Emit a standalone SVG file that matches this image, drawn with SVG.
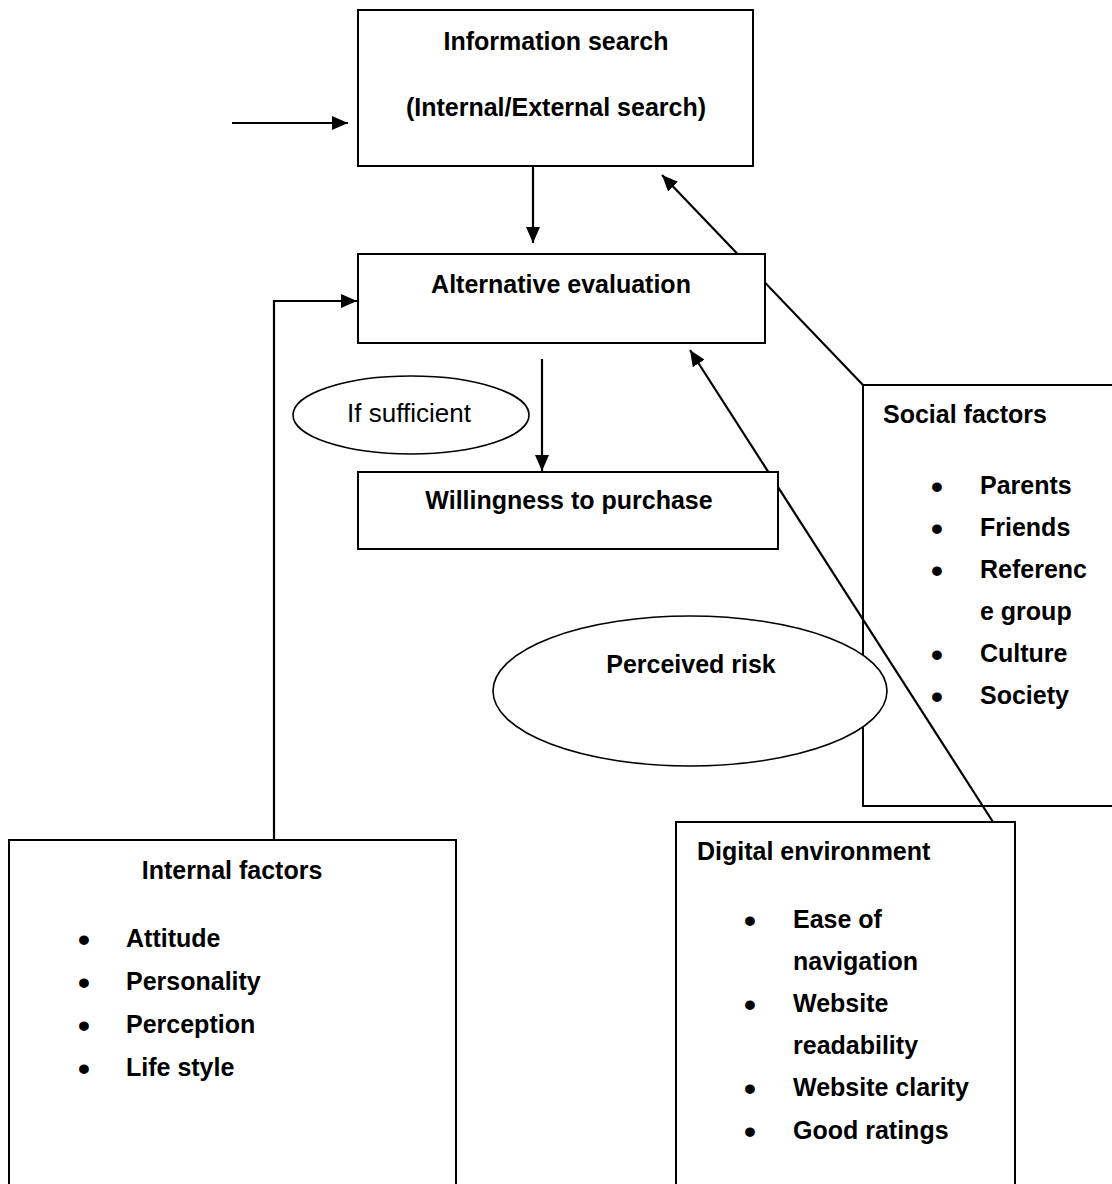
<svg xmlns="http://www.w3.org/2000/svg" width="1112" height="1184" viewBox="0 0 1112 1184">
  <style>
    .box { fill: #ffffff; stroke: #000000; stroke-width: 2; }
    .ell { fill: #ffffff; stroke: #000000; stroke-width: 1.6; }
    .conn { fill: none; stroke: #000000; stroke-width: 2.2; }
    .b { font-family: "Liberation Sans", Arial, sans-serif; font-weight: bold; font-size: 25px; fill: #000000; }
    .bl { font-family: "Liberation Sans", Arial, sans-serif; font-weight: bold; font-size: 34px; fill: #000000; text-anchor: middle; }
    .r { font-family: "Liberation Sans", Arial, sans-serif; font-size: 26px; fill: #000000; }
    .mid { text-anchor: middle; }
  </style>
  <defs>
    <marker id="arrow" markerUnits="userSpaceOnUse" markerWidth="16" markerHeight="14" refX="16" refY="7" orient="auto">
      <path d="M0,0 L16,7 L0,14 z" fill="#000000"/>
    </marker>
  </defs>
  <rect width="1112" height="1184" fill="#ffffff"/>

  <g id="social-factors">
    <rect class="box" x="863" y="385" width="270" height="421"/>
    <text class="b" x="883" y="423">Social factors</text>
    <text class="bl" x="937" y="498">•</text>
    <text class="b" x="980" y="494">Parents</text>
    <text class="bl" x="937" y="540">•</text>
    <text class="b" x="980" y="536">Friends</text>
    <text class="bl" x="937" y="582">•</text>
    <text class="b" x="980" y="578">Referenc</text>
    <text class="b" x="980" y="620">e group</text>
    <text class="bl" x="937" y="666">•</text>
    <text class="b" x="980" y="662">Culture</text>
    <text class="bl" x="937" y="708">•</text>
    <text class="b" x="980" y="704">Society</text>
  </g>

  <g id="perceived-risk">
    <ellipse class="ell" cx="690" cy="691" rx="197" ry="75"/>
    <text class="b mid" x="691" y="673">Perceived risk</text>
  </g>

  <g id="connectors">
    <line class="conn" x1="232" y1="123" x2="348" y2="123" marker-end="url(#arrow)"/>
    <line class="conn" x1="533" y1="166" x2="533" y2="243" marker-end="url(#arrow)"/>
    <line class="conn" x1="863" y1="385" x2="662" y2="175" marker-end="url(#arrow)"/>
    <polyline class="conn" points="274,840 274,301 357,301" marker-end="url(#arrow)"/>
    <line class="conn" x1="542" y1="359" x2="542" y2="471" marker-end="url(#arrow)"/>
    <line class="conn" x1="993" y1="822" x2="690" y2="350" marker-end="url(#arrow)"/>
  </g>

  <g id="information-search">
    <rect class="box" x="358" y="10" width="395" height="156"/>
    <text class="b mid" x="556" y="50">Information search</text>
    <text class="b mid" x="556" y="116">(Internal/External search)</text>
  </g>

  <g id="alternative-evaluation">
    <rect class="box" x="358" y="254" width="407" height="89"/>
    <text class="b mid" x="561" y="293">Alternative evaluation</text>
  </g>

  <g id="if-sufficient">
    <ellipse class="ell" cx="411" cy="415" rx="118" ry="39"/>
    <text class="r mid" x="409" y="422">If sufficient</text>
  </g>

  <g id="willingness-to-purchase">
    <rect class="box" x="358" y="472" width="420" height="77"/>
    <text class="b mid" x="569" y="509">Willingness to purchase</text>
  </g>

  <g id="internal-factors">
    <rect class="box" x="9" y="840" width="447" height="360"/>
    <text class="b mid" x="232" y="879">Internal factors</text>
    <text class="bl" x="84" y="951">•</text>
    <text class="b" x="126" y="947">Attitude</text>
    <text class="bl" x="84" y="994">•</text>
    <text class="b" x="126" y="990">Personality</text>
    <text class="bl" x="84" y="1037">•</text>
    <text class="b" x="126" y="1033">Perception</text>
    <text class="bl" x="84" y="1080">•</text>
    <text class="b" x="126" y="1076">Life style</text>
  </g>

  <g id="digital-environment">
    <rect class="box" x="676" y="822" width="339" height="380"/>
    <text class="b" x="697" y="860">Digital environment</text>
    <text class="bl" x="750" y="932">•</text>
    <text class="b" x="793" y="928">Ease of</text>
    <text class="b" x="793" y="970">navigation</text>
    <text class="bl" x="750" y="1016">•</text>
    <text class="b" x="793" y="1012">Website</text>
    <text class="b" x="793" y="1054">readability</text>
    <text class="bl" x="750" y="1100">•</text>
    <text class="b" x="793" y="1096">Website clarity</text>
    <text class="bl" x="750" y="1143">•</text>
    <text class="b" x="793" y="1139">Good ratings</text>
  </g>
</svg>
